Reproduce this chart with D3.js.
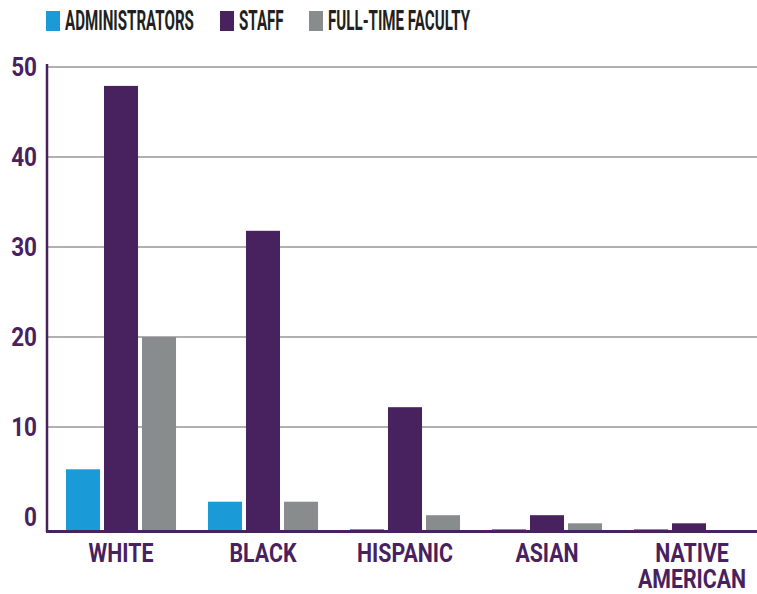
<!DOCTYPE html>
<html><head><meta charset="utf-8">
<script src="https://cdn.jsdelivr.net/npm/d3@7"></script>
<style>body{margin:0;background:#fff}svg{display:block}</style>
</head><body>
<svg id="c" width="757" height="594"></svg>
<script>
const categories = ["WHITE", "BLACK", "HISPANIC", "ASIAN", "NATIVE AMERICAN"];
const seriesNames = ["ADMINISTRATORS", "STAFF", "FULL-TIME FACULTY"];
const administrators = [5.3, 1.7, -1.35, -1.35, -1.35];
const staff = [47.9, 31.8, 12.2, 0.2, -0.7];
const faculty = [20, 1.7, 0.2, -0.7, -1.5];
const tickValues = [0, 10, 20, 30, 40, 50];
const colors = ["#1a9ad6", "#48215f", "#898c8d"];

const purple = "#48215f";
const svg = d3.select("#c");
const seriesVals = [administrators, staff, faculty];
const data = categories.map((c, i) => ({cat: c, vals: seriesVals.map((s, j) => ({k: j, v: s[i]}))}));

const y = d3.scaleLinear().domain([-1.5, 50]).range([530.5, 67]);
const x0 = d3.scaleBand().domain(categories).range([50, 760]).paddingInner(0.225).paddingOuter(0.1125);
const x1 = d3.scaleBand().domain([0, 1, 2]).range([0, x0.bandwidth()]).paddingInner(4 / 38);

function condense(sel, f) {
  sel.each(function () {
    const w = this.getComputedTextLength();
    d3.select(this).attr("textLength", w * f).attr("lengthAdjust", "spacingAndGlyphs");
  });
}

// gridlines
svg.append("g").selectAll("line").data(tickValues.filter(t => t > 0)).join("line")
  .attr("x1", 48).attr("x2", 757).attr("y1", d => y(d)).attr("y2", d => y(d))
  .attr("stroke", "#b0b0b0").attr("stroke-width", 2);

// bars
const g = svg.append("g").selectAll("g").data(data).join("g")
  .attr("transform", d => `translate(${x0(d.cat)},0)`);
g.selectAll("rect").data(d => d.vals).join("rect")
  .attr("x", d => x1(d.k)).attr("width", x1.bandwidth())
  .attr("y", d => y(d.v)).attr("height", d => Math.max(0, y(-1.5) - y(d.v)))
  .attr("fill", d => colors[d.k]);

// axes lines
svg.append("line").attr("x1", 47).attr("x2", 47).attr("y1", 64).attr("y2", 532)
  .attr("stroke", purple).attr("stroke-width", 2.5);
svg.append("line").attr("x1", 46).attr("x2", 757).attr("y1", y(-1.5) + 1).attr("y2", y(-1.5) + 1)
  .attr("stroke", purple).attr("stroke-width", 3);

// y tick labels
const yt = svg.append("g").selectAll("text").data(tickValues).join("text")
  .attr("x", 37).attr("y", d => y(d)).attr("dy", "0.36em")
  .attr("text-anchor", "end")
  .attr("font-family", "Roboto").attr("font-weight", 700).attr("font-size", 25)
  .attr("fill", purple).text(d => d);
condense(yt, 0.9);

// x labels
const xl = svg.append("g").selectAll("text").data(categories).join("text")
  .attr("text-anchor", "middle")
  .attr("font-family", "Roboto").attr("font-weight", 700).attr("font-size", 26)
  .attr("fill", purple)
  .attr("transform", d => `translate(${x0(d) + x0.bandwidth() / 2 + (d.includes(" ") ? 3 : 0)},0)`);
xl.each(function (d) {
  const lines = d.split(" ");
  d3.select(this).selectAll("tspan").data(lines).join("tspan")
    .attr("x", 0).attr("y", (l, i) => 562 + i * 26).text(l => l);
});
xl.selectAll("tspan").each(function () {
  const w = this.getComputedTextLength();
  d3.select(this).attr("textLength", w * 0.82).attr("lengthAdjust", "spacingAndGlyphs");
});

// legend
const legendX = [46, 220, 309];
const lg = svg.append("g").selectAll("g").data(seriesNames).join("g")
  .attr("transform", (d, i) => `translate(${legendX[i]},11)`);
lg.append("rect").attr("width", 14).attr("height", 20).attr("fill", (d, i) => colors[i]);
const lt = lg.append("text").attr("x", 19).attr("y", 19)
  .attr("font-family", "Roboto").attr("font-weight", 700).attr("font-size", 27)
  .attr("fill", "#231f20").text(d => d);
condense(lt, 0.56);
</script>
</body></html>
